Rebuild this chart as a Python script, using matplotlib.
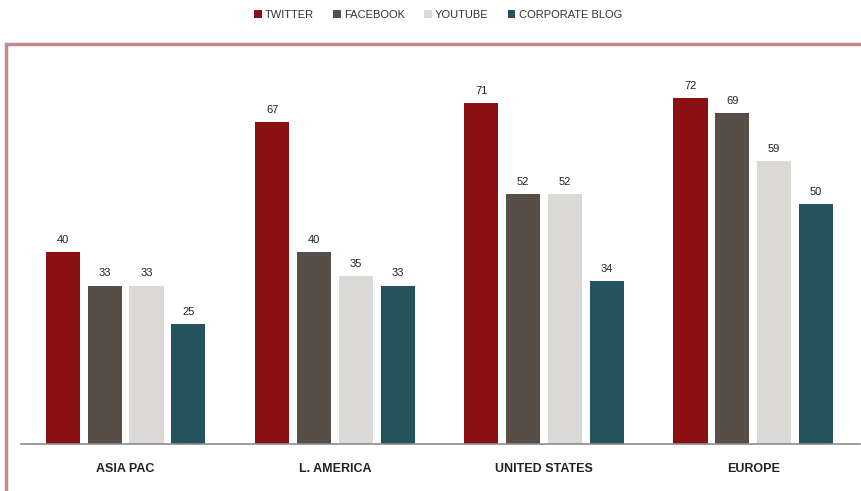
import matplotlib.pyplot as plt
import matplotlib.patches as patches
import numpy as np

regions = ["ASIA PAC", "L. AMERICA", "UNITED STATES", "EUROPE"]
series = ["TWITTER", "FACEBOOK", "YOUTUBE", "CORPORATE BLOG"]
twitter = [40, 67, 71, 72]
facebook = [33, 40, 52, 69]
youtube = [33, 35, 52, 59]
blog = [25, 33, 34, 50]
colors = ["#8a1012", "#574f47", "#dad9d5", "#24535d"]

plt.rcParams['font.family'] = ['Liberation Sans', 'DejaVu Sans']

fig = plt.figure(figsize=(8.62, 4.91), dpi=100)
fig.patch.set_facecolor("white")

# pinkish frame around the plot area (runs off right/bottom edge)
frame = patches.Rectangle((6 / 862, -0.05), 1.0, (491 - 44) / 491 + 0.05,
                          transform=fig.transFigure, fill=False,
                          edgecolor="#c28a90", linewidth=2.5, zorder=0)
fig.patches.append(frame)

ax = fig.add_axes([21 / 862, (491 - 444) / 491, 839 / 862, 384 / 491])
ax.set_xlim(-0.5, 3.51)
ax.set_ylim(0, 80)

x = np.arange(len(regions))
step = 0.2
width = 0.163
all_vals = [twitter, facebook, youtube, blog]
for i, (name, vals) in enumerate(zip(series, all_vals)):
    pos = x + (i - 1.5) * step
    bars = ax.bar(pos, vals, width, color=colors[i], label=name, zorder=2)
    for b, v in zip(bars, vals):
        ax.text(b.get_x() + b.get_width() / 2, v + 1.5, str(v),
                ha="center", va="bottom", fontsize=8, color="#222222")

for s in ["top", "right", "left"]:
    ax.spines[s].set_visible(False)
ax.spines["bottom"].set_color("#8c8c8c")
ax.spines["bottom"].set_linewidth(1.2)
ax.set_yticks([])
ax.set_xticks(x)
ax.set_xticklabels(regions, fontsize=9, fontweight="bold", color="#222222")
ax.tick_params(axis="x", length=0, pad=14)
ax.set_facecolor("none")

fig.legend(loc="upper center", bbox_to_anchor=(0.508, 1.0), ncol=4,
           frameon=False, fontsize=8, handlelength=0.7, handleheight=0.7,
           handletextpad=0.3, columnspacing=1.7, labelcolor="#333333")

fig.savefig("out.png", dpi=100)
